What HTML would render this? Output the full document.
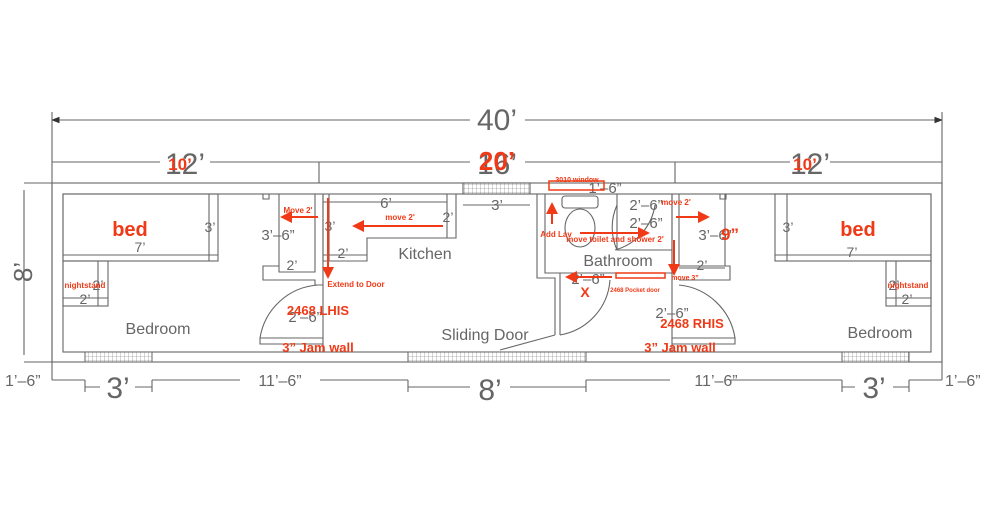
<!DOCTYPE html>
<html><head><style>
body{margin:0;background:#fff}
svg{display:block}
.l{stroke:#666;stroke-width:1.1;fill:none}
.t{fill:#666;font-family:"Liberation Sans",sans-serif}
.r{fill:#f03a17;font-family:"Liberation Sans",sans-serif;font-weight:bold}
.ra{stroke:#f03a17;stroke-width:2;fill:none}
</style></head><body>
<svg width="1002" height="522" viewBox="0 0 1002 522" xmlns="http://www.w3.org/2000/svg">
<defs>
<pattern id="h" width="4" height="4" patternUnits="userSpaceOnUse"><rect width="4" height="4" fill="#fff"/><path d="M0 0H4M0 0V4" stroke="#777" stroke-width="0.6"/></pattern>
<marker id="a" markerWidth="8" markerHeight="8" refX="7" refY="4" orient="auto"><path d="M0,1 L8,4 L0,7z" fill="#333"/></marker>
<marker id="ra" markerWidth="6" markerHeight="6" refX="5" refY="3" orient="auto"><path d="M0,0 L6,3 L0,6z" fill="#f03a17"/></marker>
</defs>
<g class="l">
<path d="M52 120H470M525 120H942" marker-end="url(#a)"/>
<path d="M470 120H52" marker-end="url(#a)"/>
<path d="M52 162H160M210 162H319M319 162H470M525 162H675M675 162H790M830 162H942"/>
<path d="M52 112V380M942 112V380M319 162V183M675 162V183M24 183H52M24 362H52M24 190V355"/>
<path d="M52 380H85M85 380V392M152 380V392M152 380H240M320 380H408M408 380V392M586 380V392M586 380H670M730 380H842M842 380V392M909 380V392M909 380H942"/>
<path d="M85 387H100M135 387H152M408 387H470M510 387H586M842 387H855M893 387H909"/>
<rect x="52" y="183" width="890" height="179"/>
<rect x="63" y="194" width="868" height="158"/>
<rect x="63" y="194" width="155" height="67"/>
<path d="M209 194V261M63 255H218"/>
<rect x="63" y="261" width="45" height="45"/>
<path d="M98 261V306M63 298H108"/>
<path d="M263 194V199h6v-5M315 194V272H279V266H263V280H315V285H323V194"/>
<path d="M279 194V266"/>
<path d="M323 285V352M260 338H323V344H260zM260 338A63 63 0 0 1 318 285"/>
<path d="M323 194V261H367V238H456V194"/>
<path d="M447 194V238M323 202H447M329 194V261M323 255H367"/>
<rect x="463" y="183" width="67" height="11" fill="url(#h)"/>
<path d="M463 205H530"/>
<path d="M537 194V278H555V335M545 194V273H560V335M560 273H672V194M545 194H672"/>
<path d="M617 194V250H672M617 250A55 55 0 0 1 617 205" />
<path d="M615 250A55 55 0 0 0 655 205"/>
<rect x="562" y="196" width="36" height="12" rx="3"/>
<ellipse cx="580" cy="228" rx="15" ry="19"/>
<path d="M555 335L500 350M560 335A60 60 0 0 0 610 280"/>
<path d="M672 194V285M679 194V266H730V280H679M672 285V352M672 338H735V344H672M735 338A63 63 0 0 0 679 285"/>
<path d="M725 194V266M679 268H725M726 194v5h-6v-5"/>
<rect x="775" y="194" width="156" height="67"/>
<path d="M787 194V261M775 255H931"/>
<rect x="886" y="261" width="45" height="45"/>
<path d="M896 261V306M886 298H931"/>
</g>
<rect x="85" y="352" width="67" height="10" fill="url(#h)" stroke="#666"/>
<rect x="408" y="352" width="178" height="10" fill="url(#h)" stroke="#666"/>
<rect x="842" y="352" width="67" height="10" fill="url(#h)" stroke="#666"/>
<g class="t">
<text x="497" y="130" font-size="30" text-anchor="middle">40’</text>
<text x="185" y="174" font-size="30" text-anchor="middle">12’</text>
<text x="497" y="174" font-size="30" text-anchor="middle">16’</text>
<text x="810" y="174" font-size="30" text-anchor="middle">12’</text>
<text x="32" y="272" font-size="26" text-anchor="middle" transform="rotate(-90 32 272)">8’</text>
<text x="118" y="398" font-size="30" text-anchor="middle">3’</text>
<text x="490" y="400" font-size="30" text-anchor="middle">8’</text>
<text x="874" y="398" font-size="30" text-anchor="middle">3’</text>
<text x="5" y="386" font-size="16">1’–6”</text>
<text x="945" y="386" font-size="16">1’–6”</text>
<text x="280" y="386" font-size="16" text-anchor="middle">11’–6”</text>
<text x="716" y="386" font-size="16" text-anchor="middle">11’–6”</text>
<text x="158" y="334" font-size="16" text-anchor="middle">Bedroom</text>
<text x="880" y="338" font-size="16" text-anchor="middle">Bedroom</text>
<text x="425" y="259" font-size="16" text-anchor="middle">Kitchen</text>
<text x="618" y="266" font-size="16" text-anchor="middle">Bathroom</text>
<text x="485" y="340" font-size="16" text-anchor="middle">Sliding Door</text>
<text x="140" y="252" font-size="14" text-anchor="middle">7’</text>
<text x="852" y="257" font-size="14" text-anchor="middle">7’</text>
<text x="210" y="232" font-size="14" text-anchor="middle">3’</text>
<text x="788" y="232" font-size="14" text-anchor="middle">3’</text>
<text x="278" y="240" font-size="15" text-anchor="middle">3’–6”</text>
<text x="715" y="240" font-size="15" text-anchor="middle">3’–6”</text>
<text x="292" y="270" font-size="14" text-anchor="middle">2’</text>
<text x="702" y="270" font-size="14" text-anchor="middle">2’</text>
<text x="386" y="208" font-size="15" text-anchor="middle">6’</text>
<text x="448" y="222" font-size="14" text-anchor="middle">2’</text>
<text x="343" y="258" font-size="14" text-anchor="middle">2’</text>
<text x="330" y="231" font-size="14" text-anchor="middle">3’</text>
<text x="497" y="210" font-size="15" text-anchor="middle">3’</text>
<text x="605" y="193" font-size="15" text-anchor="middle">1’–6”</text>
<text x="646" y="210" font-size="15" text-anchor="middle">2’–6”</text>
<text x="646" y="228" font-size="15" text-anchor="middle">2’–6”</text>
<text x="588" y="284" font-size="15" text-anchor="middle">2’–6”</text>
<text x="672" y="318" font-size="15" text-anchor="middle">2’–6”</text>
<text x="305" y="322" font-size="15" text-anchor="middle">2’–6”</text>
<text x="85" y="304" font-size="14" text-anchor="middle">2’</text>
<text x="98" y="290" font-size="14" text-anchor="middle">2’</text>
<text x="907" y="304" font-size="14" text-anchor="middle">2’</text>
<text x="894" y="290" font-size="14" text-anchor="middle">2’</text>
</g>
<g class="r">
<text x="180" y="170" font-size="17" text-anchor="middle">10’</text>
<text x="497" y="170" font-size="26" text-anchor="middle">20’</text>
<text x="805" y="170" font-size="17" text-anchor="middle">10’</text>
<text x="130" y="236" font-size="20" text-anchor="middle">bed</text>
<text x="858" y="236" font-size="20" text-anchor="middle">bed</text>
<text x="85" y="288" font-size="8" text-anchor="middle">nightstand</text>
<text x="908" y="288" font-size="8" text-anchor="middle">nightstand</text>
<text x="298" y="213" font-size="8" text-anchor="middle">Move 2'</text>
<text x="400" y="220" font-size="8" text-anchor="middle">move 2'</text>
<text x="356" y="287" font-size="8" text-anchor="middle">Extend to Door</text>
<text x="318" y="315" font-size="13" text-anchor="middle">2468 LHIS</text>
<text x="318" y="352" font-size="13" text-anchor="middle">3” Jam wall</text>
<text x="577" y="182" font-size="7" text-anchor="middle">3010 window</text>
<text x="556" y="237" font-size="8" text-anchor="middle">Add Lav</text>
<text x="615" y="242" font-size="8" text-anchor="middle">move toilet and shower 2'</text>
<text x="676" y="205" font-size="8" text-anchor="middle">move 2'</text>
<text x="730" y="240" font-size="17" text-anchor="middle">9”</text>
<text x="685" y="280" font-size="7" text-anchor="middle">move 3”</text>
<text x="635" y="292" font-size="6" text-anchor="middle">2468 Pocket door</text>
<text x="585" y="297" font-size="14" text-anchor="middle">X</text>
<text x="692" y="328" font-size="13" text-anchor="middle">2468 RHIS</text>
<text x="680" y="352" font-size="13" text-anchor="middle">3” Jam wall</text>
</g>
<g class="ra">
<path d="M318 217H282" marker-end="url(#ra)"/>
<path d="M443 226H354" marker-end="url(#ra)"/>
<path d="M328 198V277" marker-end="url(#ra)"/>
<path d="M552 224V204" marker-end="url(#ra)"/>
<path d="M580 233H648" marker-end="url(#ra)"/>
<path d="M676 217H708" marker-end="url(#ra)"/>
<path d="M674 240V274" marker-end="url(#ra)"/>
<path d="M612 277H567" marker-end="url(#ra)"/>
<rect x="549" y="181" width="55" height="9" stroke-width="1.5"/>
<rect x="616" y="273" width="49" height="5" stroke-width="1.5"/>
</g>
</svg>
</body></html>
